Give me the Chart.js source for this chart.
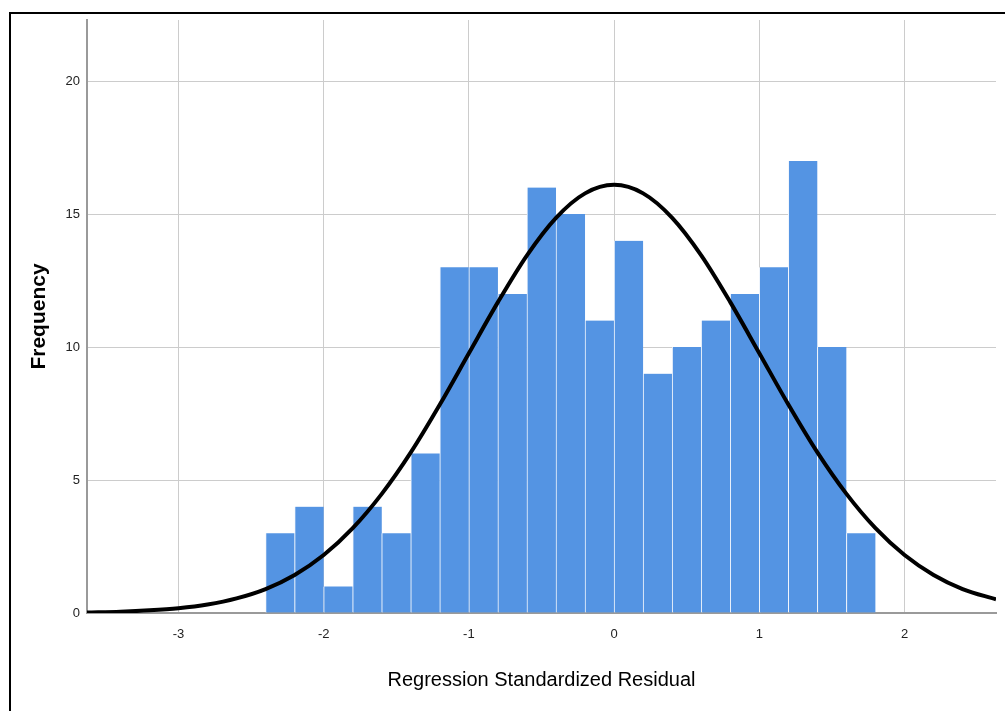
<!DOCTYPE html>
<html>
<head>
<meta charset="utf-8">
<script src="https://cdn.jsdelivr.net/npm/chart.js@4"></script>
<style>
  html, body { margin: 0; padding: 0; background: #fff; overflow: hidden; }
  #wrap { position: relative; width: 1005px; height: 711px; }
  #frame { position: absolute; left: 9px; top: 12px; width: 1010px; height: 720px;
           border-left: 2px solid #000; border-top: 2px solid #000; box-sizing: border-box; }
  canvas { position: absolute; left: 0; top: 0; }
</style>
</head>
<body>
<div id="wrap">
  <div id="frame"></div>
  <canvas id="c" width="1005" height="711"></canvas>
</div>
<script>
// Histogram bins (bin centres) and frequencies
const binCenters = [-2.3, -2.1, -1.9, -1.7, -1.5, -1.3, -1.1, -0.9, -0.7, -0.5, -0.3, -0.1,
                    0.1, 0.3, 0.5, 0.7, 0.9, 1.1, 1.3, 1.5, 1.7];
const frequencies = [3, 4, 1, 4, 3, 6, 13, 13, 12, 16, 15, 11,
                     14, 9, 10, 11, 12, 13, 17, 10, 3];

// Normal curve points
const curveX = [-3.63, -3.4, -3.2, -3.0, -2.8, -2.6, -2.4, -2.2, -2.0, -1.8, -1.6, -1.4, -1.2, -1.0,
                -0.8, -0.6, -0.4, -0.2, 0.0, 0.2, 0.4, 0.6, 0.8, 1.0, 1.2, 1.4, 1.6, 1.8,
                2.0, 2.2, 2.4, 2.63];
const curveY = [0.02, 0.05, 0.10, 0.18, 0.32, 0.55, 0.90, 1.43, 2.18, 3.19, 4.48, 6.04, 7.84, 9.77,
                11.69, 13.45, 14.86, 15.78, 16.10, 15.78, 14.86, 13.45, 11.69, 9.77, 7.84, 6.04, 4.48, 3.19,
                2.18, 1.43, 0.90, 0.51];

const xTickValues = [-3, -2, -1, 0, 1, 2];
const yTickValues = [0, 5, 10, 15, 20];

const xTitle = 'Regression Standardized Residual';
const yTitle = 'Frequency';

const barData = binCenters.map((x, i) => ({ x: x, y: frequencies[i] }));
const curveData = curveX.map((x, i) => ({ x: x, y: curveY[i] }));

const FONT = "'Liberation Sans', Arial, sans-serif";

new Chart(document.getElementById('c'), {
  type: 'bar',
  data: {
    datasets: [
      {
        type: 'line',
        data: curveData,
        borderColor: '#000',
        borderWidth: 4,
        pointRadius: 0,
        tension: 0.4,
        cubicInterpolationMode: 'monotone',
        fill: false,
        order: 0
      },
      {
        type: 'bar',
        data: barData,
        backgroundColor: 'rgb(84,148,227)',
        borderColor: '#f2f6fc',
        borderWidth: { left: 1, right: 0, top: 0, bottom: 0 },
        borderSkipped: false,
        barPercentage: 1,
        categoryPercentage: 1,
        order: 1
      }
    ]
  },
  options: {
    responsive: false,
    animation: false,
    events: [],
    layout: { padding: { left: 0, top: 20, right: 9, bottom: 0 } },
    plugins: { legend: { display: false }, tooltip: { enabled: false } },
    scales: {
      x: {
        type: 'linear',
        min: -3.63,
        max: 2.63,
        offset: false,
        afterBuildTicks: (s) => { s.ticks = xTickValues.map(v => ({ value: v })); },
        afterFit: (s) => { s.height = 98; },
        ticks: { font: { family: FONT, size: 13 }, color: '#222', padding: 14 },
        grid: { color: '#cccccc', lineWidth: 1, drawTicks: false, offset: false },
        border: { color: '#9a9a9a', width: 2 },
        title: { display: true, text: xTitle, color: '#000',
                 font: { family: FONT, size: 20 }, padding: { top: 0, bottom: 19 } }
      },
      y: {
        min: 0,
        max: 22.3,
        afterBuildTicks: (s) => { s.ticks = yTickValues.map(v => ({ value: v })); },
        afterFit: (s) => { s.width = 87; },
        ticks: { font: { family: FONT, size: 13 }, color: '#222', padding: 7 },
        grid: { color: '#cccccc', lineWidth: 1, drawTicks: false },
        border: { color: '#9a9a9a', width: 2 },
        title: { display: true, text: yTitle, color: '#000',
                 font: { family: FONT, size: 21, weight: 'bold' }, padding: { top: 27, bottom: 0 } }
      }
    }
  }
});
</script>
</body>
</html>
